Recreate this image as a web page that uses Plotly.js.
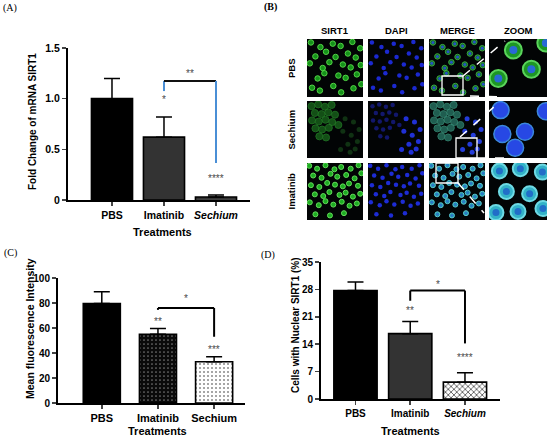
<!DOCTYPE html>
<html><head><meta charset="utf-8">
<script src="https://cdn.plot.ly/plotly-3.0.1.min.js"></script>
<style>html,body{margin:0;padding:0;background:#fff}#chart{width:550px;height:439px}</style>
</head><body><div id="chart"></div>
<script>
// ---------- data ----------
const treatments = ['PBS', 'Imatinib', 'Sechium'];
const tickTextItalic = ['PBS', 'Imatinib', '<i>Sechium</i>'];
const tickTextPlain = ['PBS', 'Imatinib', 'Sechium'];

const mrnaMean = [1.00, 0.62, 0.03];
const mrnaErr = [0.20, 0.20, 0.02];
const mrnaStars = ['', '*', '****'];
const mrnaStarY = [0, 0.99, 0.21];

const mfiMean = [79.5, 55, 33];
const mfiErr = [9.5, 4.5, 4];
const mfiStars = ['', '**', '***'];
const mfiStarY = [0, 65.5, 43];

const nucMean = [27.7, 16.7, 4.3];
const nucErr = [2.2, 3.1, 2.4];
const nucStars = ['', '**', '****'];
const nucStarY = [0, 22.6, 10.5];

// comparison brackets (Imatinib vs Sechium)
const mrnaBracket = {left: [1.075, 1.175], top: 1.175, right: [1.175, 0.365], label: '**', labelY: 1.25};
const mfiBracket = {left: [74.5, 76], top: 76, right: [76, 53], label: '*', labelY: 84};
const nucBracket = {left: [25.1, 27.7], top: 27.7, right: [27.7, 14.2], label: '*', labelY: 29.3};

// microscopy cells (panel B), coordinates in a 0-10 field of view
const pbsCellX = [0.7, 2.4, 4.6, 6.0, 8.1, 9.5, 1.5, 3.4, 5.1, 7.3, 8.7, 0.5, 2.8, 4.0, 6.4, 7.8, 9.6, 1.9, 3.1, 5.6, 6.9, 8.9, 0.9, 2.3, 4.7, 6.1, 8.3, 9.7];
const pbsCellY = [9.4, 8.6, 9.2, 8.8, 9.5, 8.4, 7.0, 7.8, 6.9, 7.5, 6.8, 5.8, 5.0, 6.0, 5.6, 5.1, 5.5, 3.2, 4.1, 3.7, 3.3, 3.9, 1.6, 1.1, 1.9, 0.8, 1.5, 2.2];
const sechClusterX = [0.8, 2.0, 3.2, 4.4, 1.4, 2.6, 3.8, 5.0, 0.9, 2.1, 3.3, 4.5, 1.5, 2.7, 3.9, 2.2, 3.4, 5.6];
const sechClusterY = [9.1, 9.4, 9.0, 9.3, 7.9, 7.7, 8.0, 7.6, 6.6, 6.4, 6.7, 6.3, 5.2, 5.0, 5.3, 3.8, 3.6, 5.8];
const sechFreeX = [6.8, 8.3, 9.3, 6.4, 7.9, 9.0, 7.3, 6.0, 7.7, 8.6];
const sechFreeY = [6.9, 6.3, 5.0, 4.7, 4.0, 2.9, 2.4, 1.5, 1.0, 1.6];
const imaCellX = [0.4, 1.8, 3.3, 4.9, 6.1, 7.8, 9.2, 1.1, 2.6, 4.2, 5.4, 7.0, 8.5, 9.7, 0.7, 2.2, 3.6, 5.0, 6.4, 7.5, 9.1, 1.4, 2.9, 4.0, 5.8, 6.9, 8.2, 9.5, 0.5, 2.1, 3.3, 4.7, 6.2, 7.6, 8.9, 1.5, 4.1, 6.6];
const imaCellY = [9.5, 9.0, 9.6, 8.9, 9.3, 9.0, 9.6, 7.8, 7.4, 8.1, 7.6, 7.9, 7.3, 8.2, 6.1, 5.8, 6.5, 6.2, 5.9, 6.4, 6.0, 4.5, 4.2, 4.9, 4.4, 4.8, 4.1, 4.6, 3.1, 2.6, 3.3, 2.7, 3.2, 2.5, 2.9, 1.0, 0.8, 1.2];
const pbsZoomX = [4.2, 1.6, 7.3, 9.8];
const pbsZoomY = [8.1, 3.2, 4.8, 9.3];
const sechZoomX = [2.0, 2.3, 6.2, 4.5, 9.8];
const sechZoomY = [8.4, 4.2, 4.6, 1.8, 8.2];
const imaZoomX = [1.8, 5.4, 9.2, 3.0, 7.0, 1.2, 5.0, 9.3];
const imaZoomY = [8.6, 9.0, 8.4, 5.0, 4.6, 1.3, 1.5, 2.0];

const columnNames = ['SIRT1', 'DAPI', 'MERGE', 'ZOOM'];
const rowNames = ['PBS', 'Sechium', 'Imatinib'];

// ---------- helpers ----------
const W = 550, H = 439;
const px = x => x / W;
const py = y => 1 - y / H;
const FONT = 'Liberation Sans, Arial, sans-serif';
const STAR = '#4a4a4a';
const traces = [];
const annotations = [];
const shapes = [];

function barPanel(ax, means, errs, styles, bw) {
  const xa = 'x' + (ax === 1 ? '' : ax), ya = 'y' + (ax === 1 ? '' : ax);
  treatments.forEach((t, i) => {
    const s = styles[i];
    traces.push({
      type: 'bar', x: [t], y: [means[i]], xaxis: xa, yaxis: ya, width: bw,
      marker: {color: s.color, line: {color: '#000', width: 1.6},
        pattern: s.pattern || {shape: ''}},
      error_y: {type: 'data', symmetric: false, array: [errs[i]], arrayminus: [0],
        color: '#000', thickness: 1.5, width: 8},
      hoverinfo: 'skip', showlegend: false
    });
  });
}
function bracket(ax, b, leftColor, topColor, rightColor) {
  const xa = 'x' + (ax === 1 ? '' : ax), ya = 'y' + (ax === 1 ? '' : ax);
  const segs = [
    {x: ['Imatinib', 'Imatinib'], y: b.left, c: leftColor},
    {x: ['Imatinib', 'Sechium'], y: [b.top, b.top], c: topColor},
    {x: ['Sechium', 'Sechium'], y: b.right, c: rightColor}
  ];
  segs.forEach(s => traces.push({type: 'scatter', mode: 'lines', x: s.x, y: s.y, xaxis: xa, yaxis: ya,
    line: {color: s.c, width: 2}, hoverinfo: 'skip', showlegend: false, cliponaxis: false}));
  annotations.push({xref: xa, yref: ya, x: 1.5, y: b.labelY, text: b.label, showarrow: false,
    font: {family: FONT, size: 10, color: STAR}});
}
function stars(ax, labels, ys) {
  const xa = 'x' + (ax === 1 ? '' : ax), ya = 'y' + (ax === 1 ? '' : ax);
  labels.forEach((l, i) => { if (l) annotations.push({xref: xa, yref: ya, x: i, y: ys[i], text: l,
    showarrow: false, font: {family: FONT, size: 10, color: STAR}}); });
}
function txt(x, y, text, opts) {
  annotations.push(Object.assign({xref: 'paper', yref: 'paper', x: px(x), y: py(y), text: text,
    showarrow: false, xanchor: 'center', yanchor: 'middle',
    font: {family: FONT, size: 10, color: '#000', weight: 'bold'}}, opts || {}));
}

// ---------- panel A ----------
barPanel(1, mrnaMean, mrnaErr, [
  {color: '#000'}, {color: '#333'},
  {color: '#fff', pattern: {shape: '-', bgcolor: '#fff', fgcolor: '#000', size: 4, solidity: 0.4}}
], 0.79);
bracket(1, mrnaBracket, '#4a8fd6', '#111', '#4a8fd6');
stars(1, mrnaStars, mrnaStarY);

// ---------- panel C ----------
barPanel(2, mfiMean, mfiErr, [
  {color: '#000'},
  {color: '#0a0a0a', pattern: {shape: '.', bgcolor: '#0a0a0a', fgcolor: '#777', size: 4, solidity: 0.15}},
  {color: '#fff', pattern: {shape: '.', bgcolor: '#fff', fgcolor: '#888', size: 4, solidity: 0.2}}
], 0.66);
bracket(2, mfiBracket, '#000', '#000', '#000');
stars(2, mfiStars, mfiStarY);

// ---------- panel D ----------
barPanel(3, nucMean, nucErr, [
  {color: '#000'}, {color: '#333'},
  {color: '#fff', pattern: {shape: 'x', bgcolor: '#fff', fgcolor: '#444', size: 4, solidity: 0.35}}
], 0.79);
bracket(3, nucBracket, '#000', '#000', '#000');
stars(3, nucStars, nucStarY);

// ---------- panel B (microscopy) ----------
const colX = [[307, 363], [368, 424], [429, 485], [489, 547]];
const rowY = [[39, 97], [101, 158], [163, 220]];
function axId(r, c) { return 4 + r * 4 + c; }
function cellTrace(r, c, xs, ys, color, size, opacity, lineColor, lineWidth) {
  const id = axId(r, c);
  traces.push({type: 'scatter', mode: 'markers', x: xs, y: ys, xaxis: 'x' + id, yaxis: 'y' + id,
    marker: {color: color, size: size, opacity: opacity, line: {color: lineColor || color, width: lineWidth || 0}},
    hoverinfo: 'skip', showlegend: false});
}
// PBS row
cellTrace(0, 0, pbsCellX, pbsCellY, '#179a1c', 5.5, 0.95, '#58e04a', 1);
cellTrace(0, 1, pbsCellX, pbsCellY, '#1e2ee8', 4.5, 0.9);
cellTrace(0, 2, pbsCellX, pbsCellY, '#17802a', 5.5, 0.85, '#45c24c', 1);
cellTrace(0, 2, pbsCellX, pbsCellY, '#2850d8', 3, 0.9);
cellTrace(0, 3, pbsZoomX, pbsZoomY, '#1f9e26', 17, 0.95, '#5fe060', 2);
cellTrace(0, 3, pbsZoomX, pbsZoomY, '#2a66e0', 8, 0.95);
// Sechium row
cellTrace(1, 0, sechClusterX, sechClusterY, '#175d1a', 7, 0.85, '#237a26', 1);
cellTrace(1, 0, sechFreeX, sechFreeY, '#143f16', 5, 0.8);
cellTrace(1, 1, sechClusterX, sechClusterY, '#141a78', 4.5, 0.9);
cellTrace(1, 1, sechFreeX, sechFreeY, '#2233e0', 5, 0.95);
cellTrace(1, 2, sechClusterX, sechClusterY, '#256d5e', 7, 0.85, '#368a74', 1);
cellTrace(1, 2, sechFreeX, sechFreeY, '#2640e6', 5, 0.95);
cellTrace(1, 3, sechZoomX, sechZoomY, '#2a4cf0', 17, 0.95, '#3f90e8', 1.5);
// Imatinib row
cellTrace(2, 0, imaCellX, imaCellY, '#1fb624', 5, 0.95, '#6ae860', 1);
cellTrace(2, 1, imaCellX, imaCellY, '#1f2ee0', 4.5, 0.95);
cellTrace(2, 2, imaCellX, imaCellY, '#2aa6bc', 5, 0.9, '#62dbe6', 1);
cellTrace(2, 2, imaCellX, imaCellY, '#2a72d0', 2.5, 0.9);
cellTrace(2, 3, imaZoomX, imaZoomY, '#36bcd2', 15, 0.95, '#74e6f0', 2);
cellTrace(2, 3, imaZoomX, imaZoomY, '#1f66c8', 7, 0.9);

const layout = {
  width: W, height: H, margin: {l: 0, r: 0, t: 0, b: 0},
  paper_bgcolor: '#fff', plot_bgcolor: 'rgba(0,0,0,0)', barmode: 'overlay',
  font: {family: FONT, color: '#000'}, showlegend: false,
  annotations: annotations, shapes: shapes
};
function barAxes(n, xd, yd, xr, yr, tickvals, ticktext, xticks, tickSize, yTickSize) {
  const s = n === 1 ? '' : n;
  layout['xaxis' + s] = {domain: [px(xd[0]), px(xd[1])], anchor: 'y' + s, type: 'category',
    categoryorder: 'array', categoryarray: treatments, range: xr,
    tickvals: treatments, ticktext: xticks, ticks: 'outside', ticklen: 4, tickwidth: 1.5,
    showline: true, linewidth: 2, linecolor: '#000', showgrid: false, zeroline: false,
    tickfont: {family: FONT, size: tickSize, color: '#000', weight: 'bold'}, fixedrange: true};
  layout['yaxis' + s] = {domain: [py(yd[0]), py(yd[1])], anchor: 'x' + s, range: yr,
    tickvals: tickvals, ticktext: ticktext, ticks: 'outside', ticklen: 4, tickwidth: 1.5,
    showline: true, linewidth: 2, linecolor: '#000', showgrid: false, zeroline: false,
    tickfont: {family: FONT, size: yTickSize, color: '#000', weight: 'bold'}, fixedrange: true};
}
barAxes(1, [68, 250], [200, 48], [-0.846, 2.654], [0, 1.5], [0, 0.5, 1, 1.5], ['0', '0.5', '1.0', '1.5'], tickTextItalic, 10.5, 10.5);
barAxes(2, [58, 245], [403, 278], [-0.78, 2.55], [0, 100], [0, 20, 40, 60, 80, 100], ['0', '20', '40', '60', '80', '100'], tickTextPlain, 11, 10);
barAxes(3, [321, 500], [399, 262], [-0.63, 2.64], [0, 35], [0, 7, 14, 21, 28, 35], ['0', '7', '14', '21', '28', '35'], tickTextItalic, 10, 10);

// image axes + black backgrounds
for (let r = 0; r < 3; r++) for (let c = 0; c < 4; c++) {
  const id = axId(r, c);
  layout['xaxis' + id] = {domain: [px(colX[c][0]), px(colX[c][1])], anchor: 'y' + id, range: [0, 10], visible: false, fixedrange: true};
  layout['yaxis' + id] = {domain: [py(rowY[r][1]), py(rowY[r][0])], anchor: 'x' + id, range: [0, 10], visible: false, fixedrange: true};
  shapes.push({type: 'rect', xref: 'x' + id + ' domain', yref: 'y' + id + ' domain', x0: 0, x1: 1, y0: 0, y1: 1,
    fillcolor: '#020405', line: {width: 0}, layer: 'below'});
}
// zoom boxes and dashed guide lines
const box = (x0, y0, x1, y1) => shapes.push({type: 'rect', xref: 'paper', yref: 'paper', x0: px(x0), x1: px(x1), y0: py(y1), y1: py(y0), line: {color: '#fff', width: 1.3}, fillcolor: 'rgba(0,0,0,0)'});
const dash = (x0, y0, x1, y1) => shapes.push({type: 'line', xref: 'paper', yref: 'paper', x0: px(x0), x1: px(x1), y0: py(y0), y1: py(y1), line: {color: '#fff', width: 1.5, dash: 'dash'}});
box(442, 76, 463, 95); dash(463, 76, 505, 41); dash(470, 96, 506, 97);
box(456, 138, 477, 158); dash(460, 137, 495, 106); dash(477, 158, 508, 158);
box(436, 163, 458, 183); dash(458, 183, 484, 213);

// ---------- text ----------
txt(10, 8, '(A)', {font: {family: 'Liberation Serif, serif', size: 10, color: '#000'}});
txt(270, 7, '(B)', {font: {family: 'Liberation Serif, serif', size: 10, color: '#000', weight: 'bold'}});
txt(10, 253, '(C)', {font: {family: 'Liberation Serif, serif', size: 10, color: '#000'}});
txt(268, 255, '(D)', {font: {family: 'Liberation Serif, serif', size: 10, color: '#000'}});

txt(33, 122, 'Fold Change of mRNA SIRT1', {textangle: -90});
txt(162, 232, 'Treatments', {font: {family: FONT, size: 11, color: '#000', weight: 'bold'}});
txt(30, 329, 'Mean fluorescence Intensity', {textangle: -90, font: {family: FONT, size: 10.5, color: '#000', weight: 'bold'}});
txt(157, 431, 'Treatments', {font: {family: FONT, size: 11, color: '#000', weight: 'bold'}});
txt(295, 325, 'Cells with Nuclear SIRT1 (%)', {textangle: -90});
txt(410, 431, 'Treatments', {font: {family: FONT, size: 11, color: '#000', weight: 'bold'}});

columnNames.forEach((n, c) => txt((colX[c][0] + colX[c][1]) / 2, 30, n, {font: {family: FONT, size: 9.5, color: '#000', weight: 'bold'}}));
rowNames.forEach((n, r) => txt(291, (rowY[r][0] + rowY[r][1]) / 2, n, {textangle: -90, font: {family: FONT, size: 9.5, color: '#000', weight: 'bold'}}));

Plotly.newPlot('chart', traces, layout, {staticPlot: true, displayModeBar: false});
</script>
</body></html>
